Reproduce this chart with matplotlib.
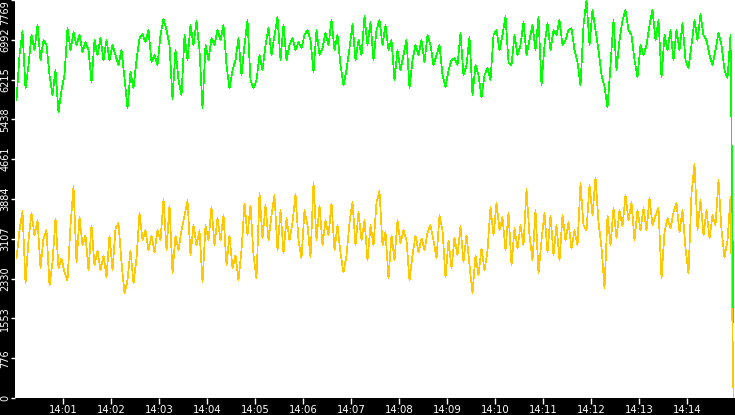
import numpy as np
import matplotlib
matplotlib.use("Agg")
import matplotlib.pyplot as plt
from matplotlib.ticker import FixedLocator, FuncFormatter

# sample interval (seconds) and chart span (14:00 -> 14:15)
step_s = 3.75
span_s = 900
y_max = 7769

green = [
    5813, 6692, 7161, 6047, 6497, 7083, 6790, 7278, 6595, 6985,
    6888, 6301, 5911, 6399, 5579, 6008, 6301, 7220, 6790, 7142,
    6888, 7083, 6751, 6946, 6790, 6165, 6985, 6692, 7024, 6595,
    6985, 6595, 6888, 6692, 6497, 6790, 6243, 5657, 6360, 6047,
    6595, 7024, 7103, 6946, 7181, 6556, 6692, 6497, 7083, 7396,
    7181, 6888, 5833, 6790, 6204, 5911, 7083, 6595, 7278, 6888,
    7357, 6790, 5657, 6888, 6595, 7024, 6888, 7181, 6985, 7278,
    6497, 6047, 6399, 6595, 7024, 6301, 6888, 7376, 6204, 6047,
    6204, 6692, 6399, 6888, 7220, 6692, 7083, 7435, 6595, 7278,
    6595, 6888, 7024, 6790, 6946, 6829, 7083, 7181, 6985, 6360,
    7181, 6692, 6829, 7122, 6888, 7376, 6790, 7083, 6497, 6106,
    6399, 6829, 7298, 6595, 6985, 6692, 7454, 6888, 7337, 6595,
    7181, 7376, 6888, 7278, 6790, 6985, 6204, 6790, 6399, 6692,
    6985, 6047, 6595, 6888, 6692, 6985, 6556, 7083, 6888, 6497,
    6692, 6888, 6301, 6067, 6399, 6595, 6634, 6497, 7122, 6301,
    6497, 7044, 5911, 6497, 6301, 5872, 6301, 6438, 6204, 7083,
    7181, 6790, 7083, 7454, 6556, 6497, 7083, 6692, 6888, 7337,
    6692, 6985, 7278, 6790, 7435, 6106, 6888, 7318, 6790, 7181,
    7083, 7376, 6888, 6985, 7181, 7220, 6790, 6556, 6106, 7278,
    7767, 6888, 7572, 7181, 6790, 6301, 6087, 5676, 6497, 7376,
    6399, 6985, 7376, 7572, 7181, 7083, 6595, 6262, 6888, 6692,
    6888, 7278, 7572, 6985, 7376, 6262, 7083, 6790, 7181, 6595,
    7181, 6790, 7318, 6595, 6438, 6888, 7376, 6985, 7493, 7083,
    6985, 6692, 6497, 6790, 7122, 6888, 6399, 6243, 7083, 1475,
]

orange = [
    2726, 3273, 3644, 2237, 3077, 3605, 3175, 3468, 2530, 3116,
    3273, 2198, 2648, 3507, 2530, 2726, 2452, 2296, 3371, 4133,
    2648, 3527, 2980, 3175, 2491, 3371, 2589, 2882, 2491, 2784,
    2354, 3175, 2491, 3312, 3410, 2648, 2042, 2296, 2882, 2237,
    2726, 3605, 3077, 3273, 2882, 3175, 2843, 3273, 3077, 3879,
    2882, 3761, 2433, 3175, 2882, 3273, 3566, 3859, 2784, 3371,
    2980, 3273, 2257, 3371, 3077, 3722, 2980, 3507, 3077, 3566,
    2589, 3175, 2530, 2784, 2296, 2882, 3800, 3175, 3761, 2784,
    2335, 3996, 3116, 3761, 3077, 3566, 3957, 2882, 3664, 2823,
    3507, 3077, 3429, 3976, 3077, 2726, 3664, 3371, 2745, 4211,
    3077, 3761, 2980, 3468, 3175, 3800, 2882, 3371, 2823, 2452,
    2784, 3429, 3820, 2980, 3624, 3077, 3468, 2687, 3371, 2980,
    3820, 4035, 2980, 3234, 2335, 3175, 2687, 3468, 3019, 3273,
    3077, 2296, 2784, 3175, 2843, 3116, 2882, 3234, 3371, 3077,
    2726, 3566, 3273, 2354, 3077, 2530, 3136, 2784, 3351, 2648,
    3175, 2589, 2042, 2784, 2394, 2921, 2491, 2882, 3722, 3175,
    3800, 3273, 3527, 2882, 3624, 2589, 3312, 2921, 3371, 2980,
    4074, 3175, 2687, 3664, 2433, 3077, 3605, 2843, 3566, 2784,
    3371, 2687, 3566, 3077, 3429, 2921, 3273, 2980, 4191, 3371,
    3273, 4152, 3566, 4308, 3429, 2941, 2140, 3566, 2980, 3703,
    3116, 3664, 3351, 3957, 3468, 3820, 3077, 3664, 3273, 3703,
    3273, 3898, 3371, 3566, 3703, 2335, 3234, 3507, 3312, 3624,
    3800, 3234, 3664, 2921, 2433, 3996, 4562, 3273, 3859, 3175,
    3664, 3116, 3566, 3371, 4250, 3273, 2745, 3077, 3918, 0,
]

minute_ticks = list(range(1, 15))
tick_labels_x = [f"14:{m:02d}" for m in minute_ticks]

W, H, DPI = 735, 415, 100
fig = plt.figure(figsize=(W / DPI, H / DPI), dpi=DPI, facecolor="black")
left_px, bottom_px = 15, 17
ax = fig.add_axes([left_px / W, bottom_px / H, (W - left_px) / W, (H - bottom_px) / H])
ax.set_facecolor("white")

t = np.arange(len(green)) * step_s + step_s / 2
lw = 0.5
ax.plot(t, orange, color="#FFC800", lw=lw, antialiased=False)
ax.plot(t, green, color="#00FF00", lw=lw, antialiased=False)

ax.set_xlim(0, span_s)
ax.set_ylim(0, y_max)

for s in ax.spines.values():
    s.set_visible(False)

yt = [y_max * k / 10 for k in range(11)]
ax.yaxis.set_major_locator(FixedLocator(yt))
ax.yaxis.set_major_formatter(FuncFormatter(lambda v, p: str(int(np.floor(v + 1e-6)))))
ax.xaxis.set_major_locator(FixedLocator([m * 60 for m in minute_ticks]))
ax.set_xticklabels(tick_labels_x)

ax.tick_params(axis="x", colors="white", labelcolor="white", labelsize=7.3,
               length=4.3, width=1.0, direction="out", pad=0.5)
ax.tick_params(axis="y", colors="white", labelcolor="white", labelsize=7.0,
               length=3.2, width=1.0, direction="out", pad=0.3)
for lab in ax.get_yticklabels():
    lab.set_rotation(90)
    lab.set_va("center")
    lab.set_ha("right")
ylabs = ax.get_yticklabels()
ylabs[-1].set_va("top")

fig.savefig("out.png", dpi=DPI, facecolor="black")
